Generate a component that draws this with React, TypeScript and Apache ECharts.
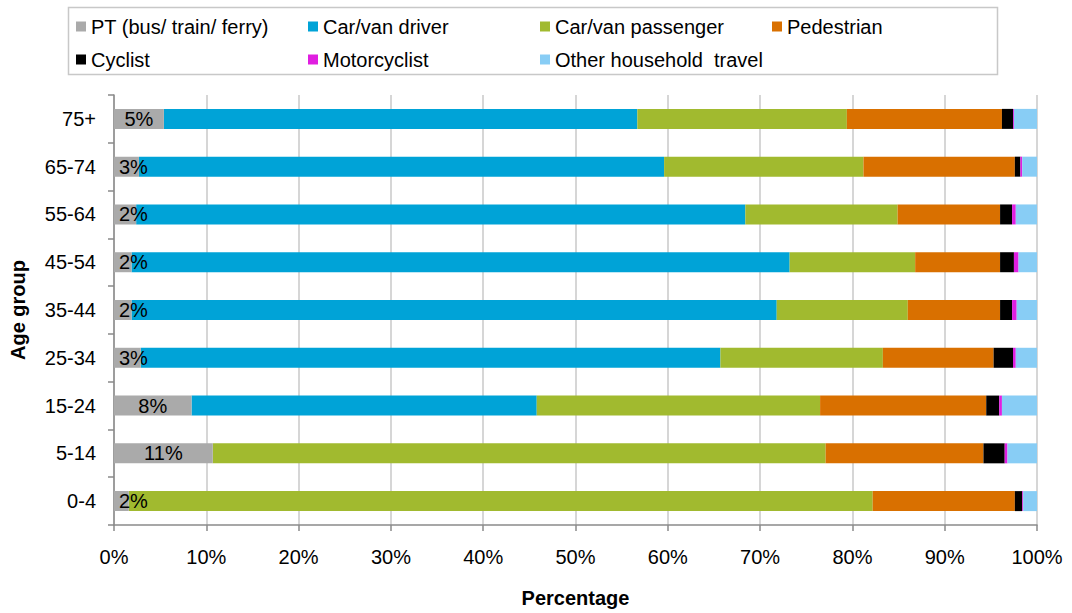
import React, { useEffect, useRef } from "react";
import * as echarts from "echarts";

// Age groups, bottom to top
const ageGroups = ["0-4", "5-14", "15-24", "25-34", "35-44", "45-54", "55-64", "65-74", "75+"];

// Share of trips (%) by main mode, per age group
const ptBusTrainFerry = [1.6, 10.7, 8.4, 2.9, 1.9, 1.9, 2.4, 2.7, 5.4];
const carVanDriver = [0, 0, 37.4, 62.8, 69.9, 71.3, 66.0, 56.9, 51.3];
const carVanPassenger = [80.6, 66.4, 30.7, 17.6, 14.2, 13.6, 16.5, 21.6, 22.7];
const pedestrian = [15.4, 17.1, 18.0, 12.0, 10.0, 9.2, 11.1, 16.4, 16.8];
const cyclist = [0.8, 2.3, 1.4, 2.1, 1.3, 1.5, 1.3, 0.6, 1.2];
const motorcyclist = [0.1, 0.3, 0.3, 0.3, 0.5, 0.5, 0.4, 0.2, 0.1];
const otherHousehold = [1.5, 3.2, 3.8, 2.3, 2.2, 2.0, 2.3, 1.6, 2.5];

const modeNames = [
  "PT (bus/ train/ ferry)",
  "Car/van driver",
  "Car/van passenger",
  "Pedestrian",
  "Cyclist",
  "Motorcyclist",
  "Other household  travel",
];
const modeValues = [
  ptBusTrainFerry,
  carVanDriver,
  carVanPassenger,
  pedestrian,
  cyclist,
  motorcyclist,
  otherHousehold,
];
const modeColors = ["#aaaaaa", "#00a3d7", "#a1ba2f", "#d97000", "#000000", "#e01ee0", "#88cdf5"];

const FONT = "'Liberation Sans', Arial, Helvetica, sans-serif";

export default function App() {
  const ref = useRef<HTMLDivElement>(null);

  useEffect(() => {
    if (!ref.current) return;
    const chart = echarts.init(ref.current, undefined, { renderer: "svg" });

    const series = modeNames.map((name, i) => {
      const base: any = {
        name,
        type: "bar",
        stack: "total",
        barWidth: 20,
        itemStyle: { color: modeColors[i] },
        emphasis: { disabled: true },
      };
      if (i === 0) {
        // Public transport share is labelled on each bar
        base.z = 3;
        base.data = modeValues[i].map((v) => ({
          value: v,
          label: {
            show: true,
            position: v < 4 ? "insideLeft" : "inside",
            distance: 5,
            formatter: () => Math.round(v) + "%",
            fontSize: 20,
            color: "#000",
            fontFamily: FONT,
          },
        }));
      } else {
        base.data = modeValues[i];
      }
      return base;
    });

    chart.setOption({
      animation: false,
      textStyle: { fontFamily: FONT },
      grid: { left: 114, right: 35, top: 95, bottom: 87, containLabel: false },
      legend: {
        data: modeNames,
        left: 76,
        top: 15,
        width: 940,
        padding: 0,
        itemWidth: 10,
        itemHeight: 10,
        itemGap: 10,
        icon: "rect",
        selectedMode: false,
        formatter: "{a|{name}}",
        textStyle: {
          fontSize: 20,
          lineHeight: 23,
          color: "#000",
          fontFamily: FONT,
          rich: { a: { width: 207, fontSize: 20, lineHeight: 23, fontFamily: FONT, color: "#000" } },
        },
      },
      graphic: [
        {
          type: "rect",
          shape: { x: 68.5, y: 7.5, width: 929, height: 67 },
          style: { fill: "none", stroke: "#c8c8c8", lineWidth: 1.5 },
          silent: true,
          z: -1,
        },
      ],
      xAxis: {
        type: "value",
        min: 0,
        max: 100,
        interval: 10,
        name: "Percentage",
        nameLocation: "middle",
        nameGap: 63,
        nameTextStyle: { fontSize: 20, fontWeight: "bold", color: "#000", fontFamily: FONT },
        axisLine: { show: true, lineStyle: { color: "#8a8a8a", width: 1.5 } },
        axisTick: { show: true, length: 6, lineStyle: { color: "#8a8a8a", width: 1.5 } },
        axisLabel: { formatter: "{value}%", fontSize: 20, color: "#000", margin: 22, fontFamily: FONT },
        splitLine: { show: true, lineStyle: { color: "#c8c8c8", width: 1.5 } },
      },
      yAxis: {
        type: "category",
        data: ageGroups,
        name: "Age group",
        nameLocation: "middle",
        nameGap: 86,
        nameRotate: 90,
        nameTextStyle: { fontSize: 20, fontWeight: "bold", color: "#000", fontFamily: FONT },
        axisLine: { show: true, lineStyle: { color: "#8a8a8a", width: 1.5 } },
        axisTick: { show: true, length: 6, lineStyle: { color: "#8a8a8a", width: 1.5 } },
        axisLabel: { fontSize: 20, color: "#000", margin: 18, fontFamily: FONT },
        splitLine: { show: false },
      },
      series,
    });

    return () => {
      chart.dispose();
    };
  }, []);

  return (
    <div
      ref={ref}
      style={{ position: "fixed", left: 0, top: 0, width: 1072, height: 613, background: "#fff" }}
    />
  );
}
